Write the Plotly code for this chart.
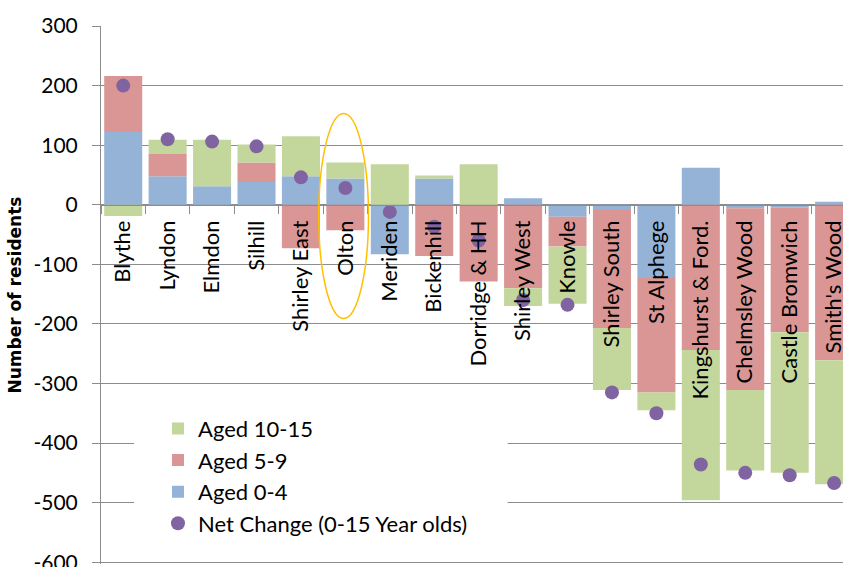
import plotly.graph_objects as go

categories = ["Blythe", "Lyndon", "Elmdon", "Silhill", "Shirley East", "Olton", "Meriden",
              "Bickenhill", "Dorridge & HH", "Shirley West", "Knowle", "Shirley South",
              "St Alphege", "Kingshurst & Ford.", "Chelmsley Wood", "Castle Bromwich", "Smith's Wood"]
aged_0_4 = [122, 48, 31, 38, 48, 44, -83, 44, 0, 11, -20, -9, -123, 62, -6, -5, 5]
aged_5_9 = [94, 37, 0, 33, -73, -43, 0, -86, -129, -140, -50, -198, -192, -244, -305, -209, -261]
aged_10_15 = [-19, 24, 78, 30, 67, 27, 68, 5, 68, -30, -96, -104, -30, -252, -135, -236, -208]
net_change = [200, 110, 106, 98, 46, 28, -12, -37, -60, -160, -168, -315, -350, -436, -450, -454, -467]

y_tick_values = [-600, -500, -400, -300, -200, -100, 0, 100, 200, 300]
y_tick_labels = ["-600", "-500", "-400", "-300", "-200", "-100", "0", "100", "200", "300"]

FONT = "Lato"
GRID = "#8c8c8c"
Y_MIN, Y_MAX = -603, 300

fig = go.Figure()
fig.add_trace(go.Bar(name="Aged 0-4", x=categories, y=aged_0_4, marker_color="#95B3D7",
                     marker_line_width=0, legendrank=3))
fig.add_trace(go.Bar(name="Aged 5-9", x=categories, y=aged_5_9, marker_color="#D99694",
                     marker_line_width=0, legendrank=2))
fig.add_trace(go.Bar(name="Aged 10-15", x=categories, y=aged_10_15, marker_color="#C3D69B",
                     marker_line_width=0, legendrank=1))
fig.add_trace(go.Scatter(name="Net Change (0-15 Year olds)", x=categories, y=net_change,
                         mode="markers", marker=dict(color="#8064A2", size=14),
                         legendrank=4))

fig.update_layout(
    width=843, height=567,
    margin=dict(l=101, r=0, t=26, b=3, autoexpand=False),
    barmode="relative", bargap=0.144,
    plot_bgcolor="white", paper_bgcolor="white",
    font=dict(family=FONT, color="black", size=20),
    showlegend=True,
    legend=dict(x=0.0768, xanchor="left", y=0.2906, yanchor="top",
                bgcolor="rgba(0,0,0,0)", font=dict(size=22, family=FONT),
                tracegroupgap=0),
    xaxis=dict(
        type="category", range=[-0.5, 16.2], anchor="free",
        position=-Y_MIN / (Y_MAX - Y_MIN),
        automargin=False,
        showline=True, linecolor=GRID, linewidth=1,
        ticks="outside", tickson="boundaries", ticklen=8, tickcolor=GRID,
        tickangle=-90, tickfont=dict(size=22, family=FONT), ticklabelstandoff=6,
        showgrid=False, zeroline=False,
    ),
    yaxis=dict(
        range=[Y_MIN, Y_MAX], tickvals=y_tick_values, ticktext=y_tick_labels,
        automargin=False, ticklabeloverflow="allow",
        showgrid=True, gridcolor=GRID, gridwidth=1, zeroline=False,
        showline=True, linecolor=GRID, linewidth=1,
        ticks="outside", ticklen=8, tickcolor=GRID, ticklabelstandoff=10,
        tickfont=dict(size=21, family=FONT),
        title=dict(text="<b>Number of residents</b>", standoff=7,
                   font=dict(family="DejaVu Sans", size=17)),
    ),
    shapes=[
        dict(type="rect", xref="paper", yref="paper", x0=0.0445, x1=0.548, y0=0.04, y1=0.31,
             fillcolor="white", line_width=0, layer="above"),
        dict(type="circle", xref="x", yref="y", x0=4.40, x1=5.52, y0=-191, y1=153,
             line=dict(color="#FFC000", width=1.5), layer="above"),
    ],
)

fig.write_html("out.html", config={"displayModeBar": False},
               post_script="document.body.style.margin='0';document.body.style.overflow='hidden';")
